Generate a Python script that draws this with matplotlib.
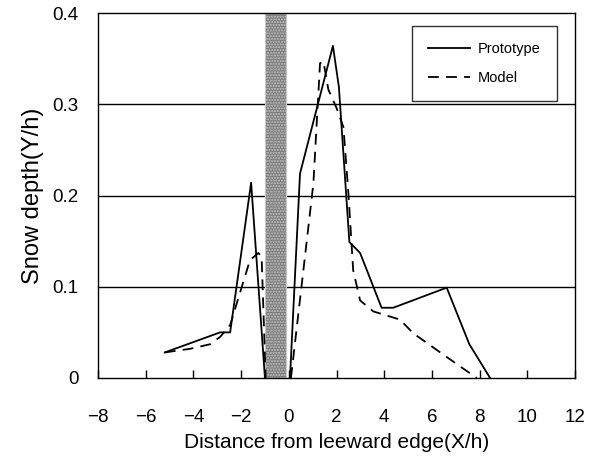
import matplotlib.pyplot as plt
from matplotlib.patches import Rectangle

plt.rcParams['font.family'] = ['Liberation Sans', 'DejaVu Sans']

# prototype (solid) - two pieces, windward and leeward of the fence
proto_x1 = [-5.2, -2.88, -2.46, -1.58, -1.0]
proto_y1 = [0.028, 0.050, 0.050, 0.214, 0.0]
proto_x2 = [0.05, 0.47, 1.85, 2.1, 2.54, 2.99, 3.89, 4.38, 6.62, 7.57, 8.44]
proto_y2 = [0.0, 0.224, 0.364, 0.319, 0.149, 0.137, 0.077, 0.077, 0.099, 0.037, 0.0]

# model (dashed)
model_x1 = [-5.2, -4.14, -3.3, -2.88, -2.46, -1.97, -1.63, -1.28, -1.14, -0.97]
model_y1 = [0.028, 0.032, 0.037, 0.045, 0.058, 0.100, 0.129, 0.137, 0.133, 0.0]
model_x2 = [0.09, 1.03, 1.31, 1.45, 1.66, 2.0, 2.29, 2.5, 2.7, 2.99, 3.54, 4.66, 5.22, 6.62, 7.88]
model_y2 = [0.0, 0.213, 0.345, 0.347, 0.316, 0.296, 0.275, 0.202, 0.118, 0.085, 0.073, 0.064, 0.049, 0.023, 0.0]

fence_x = [-1.0, -0.1]

fig = plt.figure(figsize=(5.96, 4.57), dpi=100)
ax = fig.add_axes([98 / 596, 1 - 378 / 457, 477 / 596, 365 / 457])

# fence
ax.add_patch(Rectangle((fence_x[0], 0), fence_x[1] - fence_x[0], 0.4,
                       facecolor='#7a7a7a', edgecolor='#c8c8c8', hatch='......',
                       linewidth=0.8, zorder=2))

ax.plot(proto_x1, proto_y1, color='black', lw=1.3, label='Prototype', zorder=3)
ax.plot(proto_x2, proto_y2, color='black', lw=1.3, zorder=3)
ax.plot(model_x1, model_y1, color='black', lw=1.3, ls=(0, (6, 4)), label='Model', zorder=3)
ax.plot(model_x2, model_y2, color='black', lw=1.3, ls=(0, (6, 4)), zorder=3)

ax.set_xlim(-8, 12)
ax.set_ylim(0, 0.4)
ax.set_xticks(range(-8, 13, 2))
ax.set_xticklabels([str(v).replace('-', '\u2212') for v in range(-8, 13, 2)])
ax.set_yticks([0, 0.1, 0.2, 0.3, 0.4])
ax.set_yticklabels(['0', '0.1', '0.2', '0.3', '0.4'])
for yv in [0.1, 0.2, 0.3]:
    ax.axhline(yv, color='black', lw=1.0, zorder=1)

ax.tick_params(axis='x', direction='in', length=6, width=1, labelsize=13.5, pad=22)
ax.tick_params(axis='y', length=0, labelsize=13.5, pad=14)
for s in ax.spines.values():
    s.set_linewidth(1.0)

ax.set_xlabel('Distance from leeward edge(X/h)', fontsize=15, labelpad=5)
ax.set_ylabel('Snow depth(Y/h)', fontsize=17, labelpad=6)

leg = ax.legend(loc='upper right', bbox_to_anchor=(0.962, 0.965), fontsize=10.5,
                frameon=True, fancybox=False, edgecolor='black', handlelength=2.9,
                labelspacing=1.05, borderpad=1.1, handletextpad=0.55, borderaxespad=0)
leg.get_frame().set_linewidth(1.0)
leg._legend_box.align = 'left'

fig.savefig('out.png', dpi=100)
